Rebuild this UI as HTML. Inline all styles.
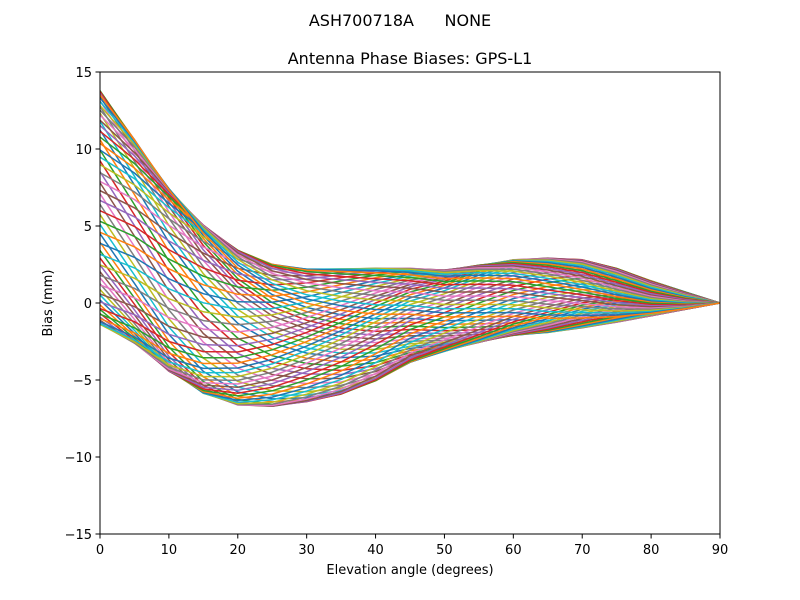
<!DOCTYPE html>
<html><head><meta charset="utf-8"><style>
body{margin:0;background:#fff;}
svg{display:block;font-family:"DejaVu Sans","Liberation Sans",sans-serif;}
</style></head><body>
<svg id="s" width="800" height="600" viewBox="0 0 800 600" xmlns="http://www.w3.org/2000/svg">
<rect width="800" height="600" fill="#fff"/>
<text x="400" y="26" font-size="16" text-anchor="middle" xml:space="preserve">ASH700718A      NONE</text>
<text x="410" y="64" font-size="16" text-anchor="middle">Antenna Phase Biases: GPS-L1</text>
<defs><clipPath id="c"><rect x="100" y="72" width="620" height="462"/></clipPath></defs>
<g id="lines" clip-path="url(#c)" fill="none" stroke-width="1.5" stroke-linejoin="round"></g>
<rect x="100" y="72" width="620" height="462" fill="none" stroke="#000" stroke-width="1"/>
<g id="ticks" stroke="#000" stroke-width="1"></g>
<g id="labels" font-size="13"></g>
<text x="410" y="574" font-size="13" text-anchor="middle">Elevation angle (degrees)</text>
<text transform="translate(52,303) rotate(-90)" font-size="13" text-anchor="middle">Bias (mm)</text>
</svg>
<script>
var ns="http://www.w3.org/2000/svg";
function X(e){return 100+e*620/90;}
function Y(v){return 303-v*15.4;}
var mean=[6.2,4,1.5,-0.4,-1.6,-2.1,-2.1,-1.85,-1.4,-0.8,-0.5,-0.05,0.35,0.5,0.6,0.5,0.3,0.15,0];
var amp=[7.7,7,6.5,5.9,5.2,4.6,4.2,3.95,3.6,3.1,2.8,2.75,2.65,2.5,2.2,1.7,1.1,0.55,0];
var cols=["#1f77b4","#ff7f0e","#2ca02c","#d62728","#9467bd","#8c564b","#e377c2","#7f7f7f","#bcbd22","#17becf"];
var g=document.getElementById("lines");
for(var k=0;k<72;k++){
 var az=k*5*Math.PI/180, d="";
 for(var i=0;i<19;i++){
  var e=i*5, ph=e*0.035;
  var v=mean[i]+amp[i]*(0.97*Math.cos(az+ph)+0.06*Math.sin(3*az-ph));
  d+=(i?"L":"M")+X(e).toFixed(1)+","+Y(v).toFixed(1);
 }
 var p=document.createElementNS(ns,"path");p.setAttribute("d",d);p.setAttribute("stroke",cols[k%10]);g.appendChild(p);
}
var t=document.getElementById("ticks"),l=document.getElementById("labels");
for(var e=0;e<=90;e+=10){
 var ln=document.createElementNS(ns,"line");ln.setAttribute("x1",X(e));ln.setAttribute("x2",X(e));ln.setAttribute("y1",534);ln.setAttribute("y2",538.5);t.appendChild(ln);
 var tx=document.createElementNS(ns,"text");tx.setAttribute("x",X(e));tx.setAttribute("y",554);tx.setAttribute("text-anchor","middle");tx.textContent=e;l.appendChild(tx);
}
for(var v=-15;v<=15;v+=5){
 var ln=document.createElementNS(ns,"line");ln.setAttribute("x1",95.5);ln.setAttribute("x2",100);ln.setAttribute("y1",Y(v));ln.setAttribute("y2",Y(v));t.appendChild(ln);
 var tx=document.createElementNS(ns,"text");tx.setAttribute("x",92);tx.setAttribute("y",Y(v)+5);tx.setAttribute("text-anchor","end");tx.textContent=(v<0?"\u2212"+(-v):v);l.appendChild(tx);
}
</script>
</body></html>
